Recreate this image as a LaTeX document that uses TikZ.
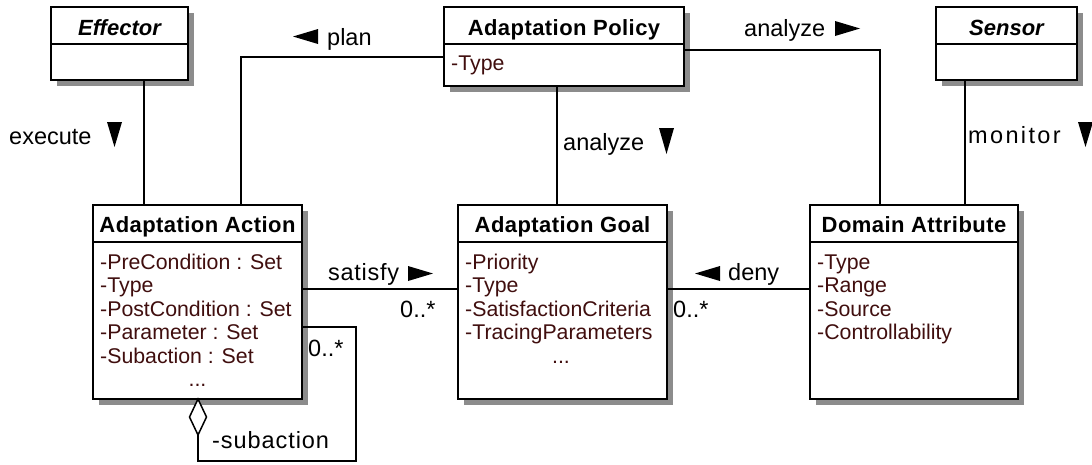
\documentclass[tikz,border=0pt]{standalone}
\usepackage{fontspec}
\setmainfont{Liberation Sans}
\usetikzlibrary{calc,shapes.geometric}
\definecolor{attrcol}{RGB}{64,14,14}
\begin{document}
\begin{tikzpicture}[x=1pt,y=-1pt,
  boxstyle/.style={draw, line width=1.8pt, fill=white, inner sep=0pt, outer sep=0pt, anchor=north west},
  titlestyle/.style={font=\fontsize{22}{26}\selectfont\bfseries\addfontfeature{LetterSpace=2}, inner sep=0pt, anchor=base},
  ititlestyle/.style={font=\fontsize{22}{26}\selectfont\bfseries\itshape, inner sep=0pt, anchor=base},
  attrstyle/.style={font=\fontsize{21.3}{24}\selectfont, text=attrcol, inner sep=0pt, anchor=base west},
  dotstyle/.style={font=\fontsize{21.3}{24}\selectfont, text=attrcol, inner sep=0pt, anchor=base},
  lblstyle/.style={font=\fontsize{23.5}{26}\selectfont, inner sep=0pt, anchor=base west},
  conn/.style={line width=1.5pt},
  thickconn/.style={line width=2.5pt},
  sepline/.style={line width=1.8pt},
  tri/.style={fill=black, draw=none}]
\useasboundingbox (0,0) rectangle (1092,464);

% shadows (drawn as filled polygons in black at reduced opacity-free gray)
\foreach \x/\y/\w/\h in {51/7/137/73, 444/7/240/79, 936/7/141/73, 93/205/209/194, 458/205/209/194, 810/205/208/194}
  \fill[black!45] (\x+6,\y+6) -- (\x+\w+6,\y+6) -- (\x+\w+6,\y+\h+6) -- (\x+6,\y+\h+6) -- cycle;

% classes
\node[boxstyle, minimum width=137pt, minimum height=73pt] (eff) at (51,7) {};
\node[boxstyle, minimum width=240pt, minimum height=79pt] (pol) at (444,7) {};
\node[boxstyle, minimum width=141pt, minimum height=73pt] (sen) at (936,7) {};
\node[boxstyle, minimum width=209pt, minimum height=194pt] (act) at (93,205) {};
\node[boxstyle, minimum width=209pt, minimum height=194pt] (goal) at (458,205) {};
\node[boxstyle, minimum width=208pt, minimum height=194pt] (dom) at (810,205) {};
\foreach \b in {eff,pol,sen,act,goal,dom}
  \draw[sepline] ([yshift=-37pt]\b.north west) -- ([yshift=-37pt]\b.north east);

% titles
\node[ititlestyle] (efft) at (119.5,35) {Effector};
\node[titlestyle] (polt) at (564,35) {Adaptation Policy};
\node[ititlestyle] (sent) at (1006.5,35) {Sensor};
\node[titlestyle] (actt) at (197.5,232) {Adaptation Action};
\node[titlestyle] (goalt) at (562.5,232) {Adaptation Goal};
\node[titlestyle] (domt) at (914,232) {Domain Attribute};

% attributes
\node[attrstyle] (pol1) at (451,70) {-Type};

\node[attrstyle] (act1) at (100,269) {-PreCondition : Set};
\node[attrstyle] (act2) at (100,292.5) {-Type};
\node[attrstyle] (act3) at (100,316) {-PostCondition : Set};
\node[attrstyle] (act4) at (100,339.5) {-Parameter : Set};
\node[attrstyle] (act5) at (100,363) {-Subaction : Set};
\node[dotstyle] (act6) at (197.5,386.5) {...};

\node[attrstyle] (goal1) at (465,269) {-Priority};
\node[attrstyle] (goal2) at (465,292.5) {-Type};
\node[attrstyle] (goal3) at (465,316) {-SatisfactionCriteria};
\node[attrstyle] (goal4) at (465,339.5) {-TracingParameters};
\node[dotstyle] (goal5) at (561,363) {...};

\node[attrstyle] (dom1) at (817,269) {-Type};
\node[attrstyle] (dom2) at (817,292.5) {-Range};
\node[attrstyle] (dom3) at (817,316) {-Source};
\node[attrstyle] (dom4) at (817,339.5) {-Controllability};

% connectors
\draw[conn] ([xshift=93pt]eff.south west) coordinate (c1) -- (c1 |- act.north);
\draw[conn] ([yshift=-50pt]pol.north west) -| ([xshift=148pt]act.north west);
\draw[thickconn] ([xshift=113pt]pol.south west) coordinate (c3) -- (c3 |- goal.north);
\draw[conn] ([yshift=-43pt]pol.north east) -| ([xshift=70pt]dom.north west);
\draw[conn] ([xshift=29pt]sen.south west) coordinate (c5) -- (c5 |- dom.north);
\draw[conn] ([yshift=-84pt]act.north east) coordinate (c6) -- (c6 -| goal.west);
\draw[conn] ([yshift=-84pt]goal.north east) coordinate (c7) -- (c7 -| dom.west);

% self aggregation
\node[draw, diamond, line width=1.5pt, fill=white, minimum width=17pt, minimum height=36pt, inner sep=0pt, outer sep=0pt, anchor=north] (dia) at (198,399) {};
\draw[conn] ([yshift=-122pt]act.north east) -- ++(54,0) -- ++(0,134) -| (dia.south);

% labels
\node[lblstyle] (lexec) at (9,144) {execute};
\fill[tri] (107,122) -- (122,122) -- (114.5,147) -- cycle;
\node[lblstyle] (lplan) at (327,45) {plan};
\fill[tri] (318,29) -- (318,44) -- (293,36.5) -- cycle;
\node[lblstyle] (lan1) at (744,36) {analyze};
\fill[tri] (835,21) -- (835,36) -- (860,28.5) -- cycle;
\node[lblstyle] (lan2) at (563,150) {analyze};
\fill[tri] (659,128) -- (674,128) -- (666.5,154) -- cycle;
\node[lblstyle, font=\fontsize{23.5}{26}\selectfont\addfontfeature{LetterSpace=10}] (lmon) at (968,143) {monitor};
\fill[tri] (1078,122) -- (1093,122) -- (1085.5,147) -- cycle;
\node[lblstyle, font=\fontsize{23.5}{26}\selectfont\addfontfeature{LetterSpace=3}] (lsat) at (328,280) {satisfy};
\fill[tri] (408,266) -- (408,281) -- (433,273.5) -- cycle;
\node[lblstyle] (ldeny) at (728,280) {deny};
\fill[tri] (720,266) -- (720,281) -- (695,273.5) -- cycle;
\node[lblstyle] (m1) at (400,317) {0..*};
\node[lblstyle] (m2) at (673,317) {0..*};
\node[lblstyle] (m3) at (308,356) {0..*};
\node[lblstyle, font=\fontsize{23.5}{26}\selectfont\addfontfeature{LetterSpace=4}] (lsub) at (212,448) {-subaction};
\end{tikzpicture}
\end{document}
